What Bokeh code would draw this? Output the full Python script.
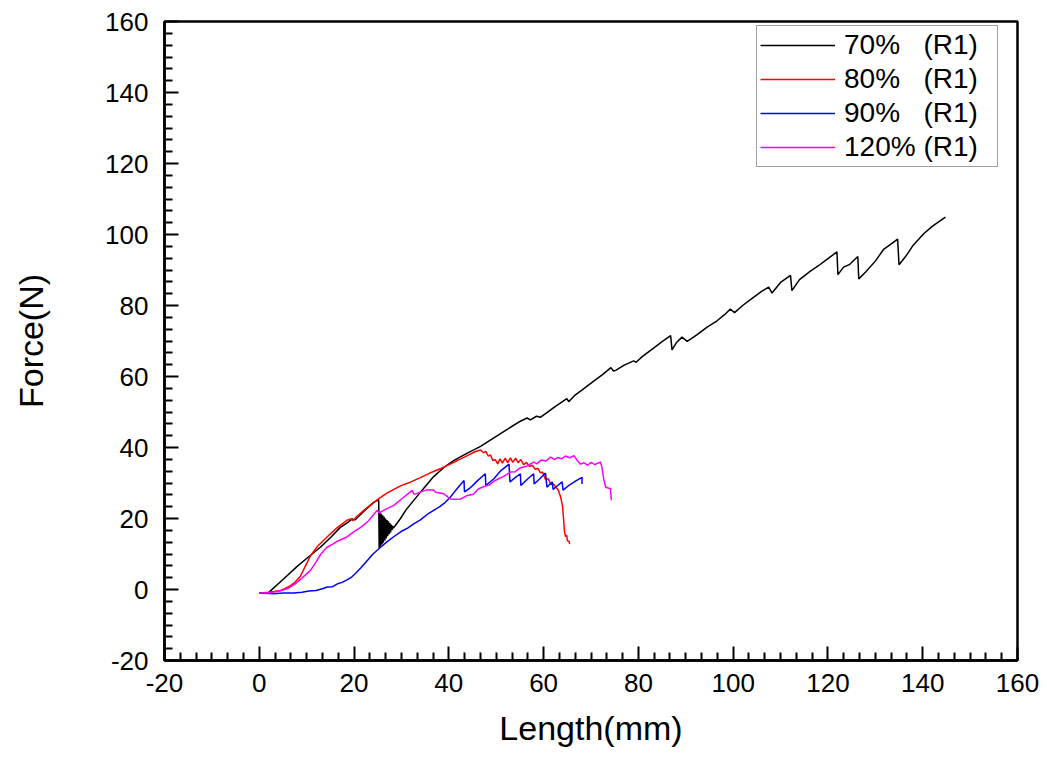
import numpy as np
from bokeh.plotting import figure
from bokeh.models import Range1d, FixedTicker
from bokeh.embed import file_html
from bokeh.resources import INLINE

# ---------------- data ----------------
labels = ["70%   (R1)", "80%   (R1)", "90%   (R1)", "120% (R1)"]
colors = ["#000000", "#ff0000", "#0000ff", "#ff00ff"]

x70 = [2.0, 5.0, 8.0, 10.5, 12.9, 15.0, 17.1, 18.8, 19.6, 20.2, 22.2, 24.2, 25.0, 25.2,
       25.3, 25.45, 25.6, 25.75, 25.9, 26.05, 26.2, 26.35, 26.5, 26.65, 26.8, 26.95,
       27.1, 27.25, 27.4, 27.55, 27.7, 27.85, 28.0, 28.15, 28.3,
       28.6, 29.8, 31.0, 32.6, 34.5, 36.8, 38.9, 41.0, 43.9, 46.7, 49.0, 51.0, 53.0,
       55.1, 56.5, 57.2, 58.5, 59.3, 60.7, 62.5, 64.9, 65.3, 66.5, 68.5, 70.5, 72.5,
       74.2, 74.8, 75.3, 77.0, 79.0, 79.5, 81.0, 83.0, 85.0, 86.8, 87.1, 88.0, 89.2,
       90.3, 92.4, 94.5, 96.6, 98.5, 99.4, 100.3, 102.0, 104.0, 106.0, 107.5, 108.2,
       110.0, 112.1, 112.4, 114.0, 116.3, 118.0, 120.0, 121.9, 122.1, 123.3, 124.5,
       126.3, 126.5, 128.0, 130.0, 131.8, 133.0, 134.7, 135.0, 136.5, 138.0, 140.2,
       142.0, 144.8]
y70 = [-0.8, 2.8, 6.5, 9.3, 11.9, 14.6, 17.5, 19.0, 19.9, 19.6, 22.2, 24.6, 25.1, 25.3,
       11.5, 21.8, 12.1, 21.3, 12.7, 20.9, 13.2, 20.5, 13.8, 20.0, 14.4, 19.6,
       15.0, 19.2, 15.6, 18.7, 16.1, 18.3, 16.7, 17.9, 17.3,
       17.8, 20.0, 22.5, 25.1, 28.2, 31.8, 34.3, 36.3, 38.4, 40.3, 42.3, 44.0, 45.7,
       47.4, 48.3, 47.8, 48.8, 48.5, 49.8, 51.6, 53.8, 52.9, 54.6, 56.6, 58.6, 60.6,
       62.5, 61.5, 61.8, 63.2, 64.4, 64.0, 65.8, 67.8, 69.8, 71.5, 67.5, 69.5, 71.1,
       69.9, 71.8, 73.9, 75.7, 77.8, 79.0, 78.0, 80.0, 82.0, 84.0, 85.2, 83.5,
       86.5, 88.5, 84.2, 87.3, 89.7, 91.2, 93.2, 95.1, 88.7, 90.8, 91.5,
       93.8, 87.5, 89.5, 92.5, 95.9, 97.0, 98.7, 91.5, 94.0, 97.0, 100.2,
       102.3, 104.9]

x80 = [0.0, 2.0, 4.5, 6.5, 7.5, 8.7, 9.8, 10.8, 12.3, 14.3, 16.5, 18.5, 19.3, 19.8,
       20.5, 22.5, 24.9, 27.0, 29.8, 32.0, 34.0, 36.0, 38.2, 40.5, 42.5, 43.9, 45.5,
       46.7, 47.3, 47.8, 48.3, 48.8, 49.3, 49.8, 50.3, 50.8, 51.3, 51.9, 52.4, 53.0,
       53.5, 54.1, 54.6, 55.2, 55.8, 56.4, 57.0, 57.6, 58.2, 58.8, 59.3, 59.8, 60.4,
       61.0, 61.5, 62.0, 62.6, 63.1, 63.6, 64.0, 64.2, 64.4, 64.6, 64.9, 65.0, 65.4, 65.5]
y80 = [-1.0, -0.8, -0.3, 1.0, 2.0, 3.8, 6.8, 9.5, 12.2, 14.8, 17.5, 19.5, 19.9, 19.4,
       20.5, 22.8, 25.3, 27.2, 29.2, 30.3, 31.5, 32.8, 34.0, 35.5, 36.8, 37.7, 38.8,
       39.3, 38.5, 38.9, 37.6, 37.9, 36.3, 36.6, 35.4, 36.8, 35.6, 37.0, 35.7, 37.1,
       35.8, 37.0, 35.7, 36.6, 35.2, 35.8, 34.6, 35.0, 33.9, 34.1, 32.9, 33.0, 31.0,
       31.2, 29.6, 29.8, 28.8, 28.0, 26.0, 23.5, 20.0, 16.5, 15.0, 15.2, 13.8, 13.5, 12.8]

x90 = [0.0, 3.0, 5.0, 7.3, 9.0, 10.5, 12.0, 13.5, 14.3, 15.5, 16.5, 17.5, 18.5, 19.5,
       20.5, 21.5, 22.8, 24.0, 25.6, 27.0, 28.5, 30.0, 31.3, 32.6, 34.0, 35.5, 36.8,
       38.0, 39.2, 40.3, 41.5, 43.2, 43.3, 44.5, 46.0, 47.7, 47.8, 49.5, 51.0, 52.7,
       52.9, 54.0, 55.1, 55.2, 56.5, 57.9, 58.0, 59.2, 60.4, 60.7, 61.8, 62.0, 63.0,
       63.9, 64.1, 65.5, 66.8, 68.1, 68.1]
y90 = [-1.0, -1.2, -1.0, -1.0, -0.8, -0.4, -0.3, 0.3, 0.7, 0.8, 1.6, 2.0, 2.7, 3.5,
       4.8, 6.2, 8.2, 10.0, 11.9, 13.5, 15.0, 16.4, 17.3, 18.5, 19.6, 21.2, 22.3,
       23.3, 24.5, 26.0, 28.0, 30.7, 27.5, 28.6, 30.6, 32.6, 29.3, 31.2, 33.5, 35.3,
       30.3, 31.5, 32.6, 29.3, 31.0, 32.6, 29.7, 31.2, 32.8, 28.8, 30.3, 28.2, 29.3,
       30.3, 28.0, 29.5, 30.6, 31.6, 29.7]

x120 = [0.0, 2.0, 4.0, 5.9, 7.5, 9.0, 10.8, 12.0, 13.0, 14.3, 15.5, 16.5, 18.5, 20.0,
        21.4, 23.0, 24.9, 25.3, 26.5, 28.4, 30.0, 31.9, 32.3, 32.6, 33.2, 34.0, 35.2,
        36.8, 37.2, 38.9, 40.3, 41.0, 42.5, 43.9, 45.2, 46.2, 47.4, 48.5, 49.5, 50.5,
        51.5, 53.0, 54.0, 55.0, 56.5, 57.9, 58.6, 59.5, 60.5, 61.5, 62.3, 63.0, 63.8,
        64.6, 65.5, 66.4, 67.0, 67.8, 68.5, 69.3, 70.0, 70.8, 71.5, 72.0, 72.3, 72.7,
        73.1, 74.1, 74.3]
y120 = [-1.0, -1.0, -0.5, 0.2, 1.5, 3.2, 5.4, 7.8, 10.0, 11.9, 12.8, 13.6, 14.8, 16.3,
        17.5, 19.3, 22.3, 21.6, 22.5, 23.7, 25.5, 27.5, 27.9, 26.9, 27.0, 27.5, 28.0,
        28.0, 27.4, 27.0, 25.5, 25.4, 25.5, 26.5, 26.8, 28.3, 29.0, 29.4, 30.5, 31.2,
        31.8, 33.1, 33.2, 34.2, 34.8, 35.9, 35.4, 36.5, 36.2, 37.3, 36.6, 37.2, 36.8,
        37.6, 37.1, 37.7, 36.5, 35.3, 35.7, 35.0, 35.8, 35.2, 35.6, 35.9, 34.5, 31.0,
        28.8, 28.4, 25.1]

x_ticks = [-20, 0, 20, 40, 60, 80, 100, 120, 140, 160]
y_ticks = [-20, 0, 20, 40, 60, 80, 100, 120, 140, 160]

# ---------------- figure ----------------
FONT = "Liberation Sans"

p = figure(width=1045, height=757, output_backend="svg", toolbar_location=None,
           x_range=Range1d(-20, 160), y_range=Range1d(-20, 160),
           min_border_left=164, min_border_right=28, min_border_top=21,
           min_border_bottom=97)

p.xgrid.visible = False
p.ygrid.visible = False
p.outline_line_color = "black"
p.outline_line_width = 2.5
p.background_fill_color = "white"
p.border_fill_color = "white"

xs = [x70, x80, x90, x120]
ys = [y70, y80, y90, y120]
for xv, yv, c, lab in zip(xs, ys, colors, labels):
    p.line(xv, yv, line_color=c, line_width=1.5, legend_label=lab)

minor_x = [t for t in np.arange(-20, 160.001, 20 / 6) if all(abs(t - m) > 1e-6 for m in x_ticks)]
minor_y = [t for t in np.arange(-20, 160.001, 20 / 6) if all(abs(t - m) > 1e-6 for m in y_ticks)]
p.xaxis.ticker = FixedTicker(ticks=x_ticks, minor_ticks=minor_x)
p.yaxis.ticker = FixedTicker(ticks=y_ticks, minor_ticks=minor_y)

for ax in (p.xaxis[0], p.yaxis[0]):
    ax.axis_line_width = 2.5
    ax.axis_line_color = "black"
    ax.major_tick_in = 14
    ax.major_tick_out = 0
    ax.minor_tick_in = 8
    ax.minor_tick_out = 0
    ax.major_tick_line_width = 2
    ax.minor_tick_line_width = 2
    ax.major_tick_line_color = "black"
    ax.minor_tick_line_color = "black"
    ax.major_label_text_font = FONT
    ax.major_label_text_font_size = "26px"
    ax.major_label_text_color = "black"
    ax.major_label_overrides = {-20: "-20"}
    ax.axis_label_text_font = FONT
    ax.axis_label_text_font_size = "34px"
    ax.axis_label_text_font_style = "normal"
    ax.axis_label_text_color = "black"

p.xaxis.axis_label = "Length(mm)"
p.yaxis.axis_label = "Force(N)"
p.xaxis.major_label_standoff = 13
p.yaxis.major_label_standoff = 16
p.xaxis.axis_label_standoff = 14
p.yaxis.axis_label_standoff = 52

leg = p.legend[0]
leg.location = (592, 493)
leg.label_text_font = FONT
leg.label_text_font_size = "28px"
leg.label_text_color = "black"
leg.glyph_width = 75
leg.label_standoff = 9
leg.label_height = 32
leg.glyph_height = 32
leg.label_width = 150
leg.spacing = 2
leg.padding = 3
leg.margin = 0
leg.border_line_color = "#444444"
leg.border_line_width = 1.5
leg.background_fill_alpha = 1.0

open("out.html", "w").write(file_html(p, INLINE))
